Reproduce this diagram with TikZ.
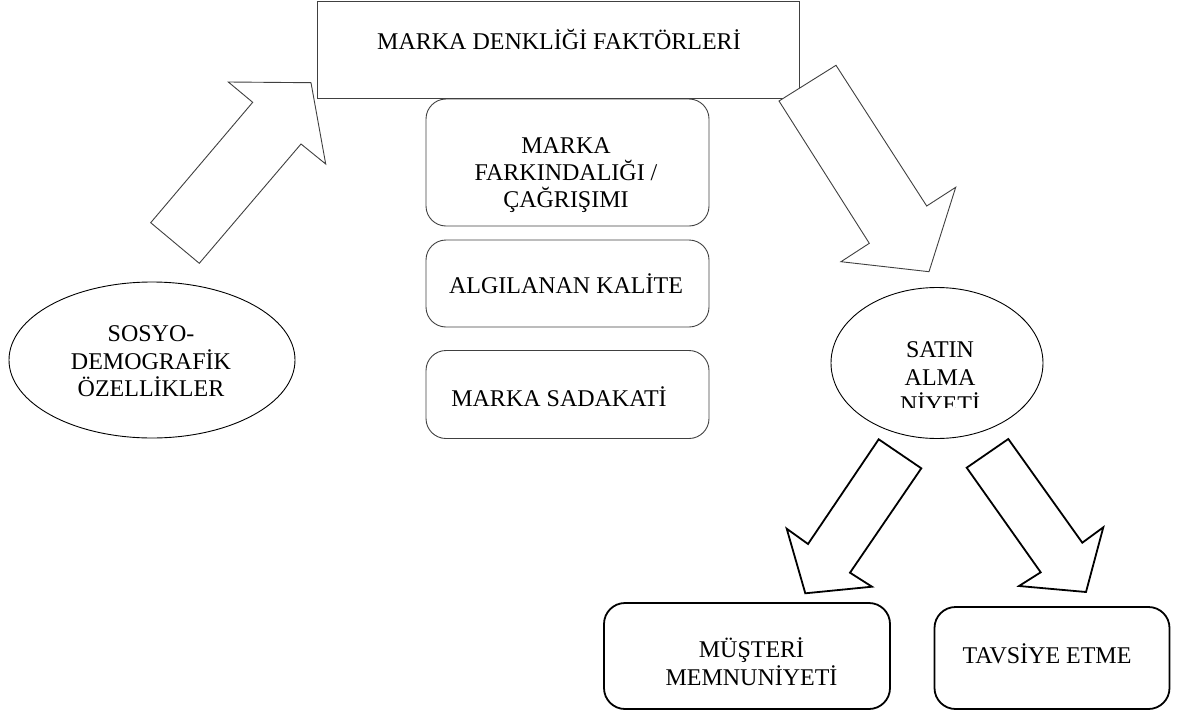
\documentclass[tikz,border=0pt]{standalone}
\usepackage{fontspec}
\setmainfont{Liberation Serif}
\usetikzlibrary{shapes.geometric}
\begin{document}
\begin{tikzpicture}[x=1pt,y=-1pt,
  txt/.style={font=\fontsize{24}{27.5}\selectfont, inner sep=0pt, anchor=base, align=center},
  thinline/.style={draw=black!75, line width=0.9pt},
  thickline/.style={draw=black, line width=1.8pt},
  plainbox/.style={thinline, rectangle, inner sep=0pt},
  roundbox/.style={thinline, rectangle, rounded corners=20pt, inner sep=0pt},
  boldbox/.style={thickline, rectangle, rounded corners=21pt, inner sep=0pt},
  oval/.style={draw=black, line width=0.9pt, ellipse, inner sep=0pt},
  blockarrow/.style={thinline, fill=white, line join=miter},
  boldarrow/.style={thickline, fill=white, line join=miter}]
\useasboundingbox (0,0) rectangle (1181,715);

% top box
\node[plainbox, minimum width=482, minimum height=97] (top) at (558,49.5) {};
\node[txt] (toptext) at (559,49) {MARKA DENKLİĞİ FAKTÖRLERİ};

% middle boxes
\node[roundbox, minimum width=283, minimum height=127] (aware) at (567.5,162.5) {};
\node[txt, font=\fontsize{24}{27}\selectfont] (awaretext) at (566,207) {MARKA\\FARKINDALIĞI /\\ÇAĞRIŞIMI};
\node[roundbox, minimum width=283, minimum height=87] (quality) at (567.5,283.5) {};
\node[txt] (qualitytext) at (566,293.3) {ALGILANAN KALİTE};
\node[roundbox, minimum width=283, minimum height=88] (loyal) at (567.5,394.5) {};
\node[txt] (loyaltext) at (559,406) {MARKA SADAKATİ};

% left ellipse
\node[oval, minimum width=286, minimum height=156] (socio) at (152,360) {};
\node[txt] (sociotext) at (151,396.5) {SOSYO-\\DEMOGRAFİK\\ÖZELLİKLER};

% right ellipse
\node[oval, minimum width=212, minimum height=151] (intent) at (937,363) {};
\begin{scope}
  \clip (830,320) rectangle (1050,407);
  \node[txt, font=\fontsize{24}{27.7}\selectfont] (intenttext) at (940,412.7) {SATIN\\ALMA\\NİYETİ};
\end{scope}

% bottom boxes
\node[boldbox, minimum width=286, minimum height=106] (satisf) at (747,656) {};
\node[txt] (satisftext) at (751.5,685) {MÜŞTERİ\\MEMNUNİYETİ};
\node[boldbox, minimum width=235, minimum height=102] (recom) at (1052,658) {};
\node[txt] (recomtext) at (1047,663) {TAVSİYE ETME};

% block arrows
\draw[blockarrow] (150.7,222.7) -- (199.3,263.3) -- (301,144) -- (325.7,164)
  -- (311,82.7) -- (228.3,82) -- (252.7,102.3) -- cycle;
\draw[blockarrow] (779,101) -- (836,65.3) -- (926.7,206) -- (955.7,187.3)
  -- (929,271.7) -- (841,261.7) -- (869.3,243.3) -- cycle;
\draw[boldarrow] (878.7,439.3) -- (921.3,468.3) -- (850,572.7) -- (872,586.7)
  -- (805.3,593.3) -- (786.7,528.7) -- (808,544) -- cycle;
\draw[boldarrow] (966.7,467.7) -- (1008.3,439) -- (1082.3,542.7) -- (1103.3,527.3)
  -- (1086,592) -- (1019,586) -- (1040.7,572.3) -- cycle;
\end{tikzpicture}
\end{document}
